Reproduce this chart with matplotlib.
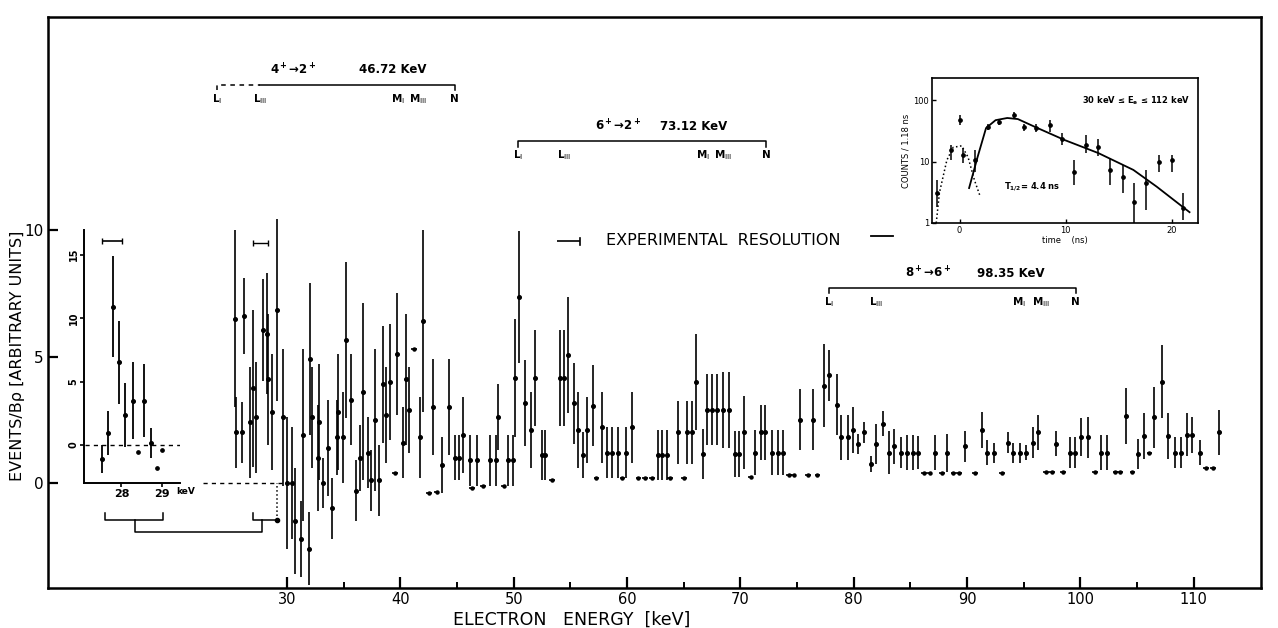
#!/usr/bin/env python3
"""Conversion-electron spectrum with isomer-decay insets (re-drawn from scan)."""

import matplotlib

matplotlib.use("Agg")
import matplotlib.pyplot as plt
from matplotlib.ticker import NullLocator

# ---- main spectrum: points with error bars (keV, events/Bp, +/- error) ----
bar_energy = [
    25.4, 25.5, 26.0, 26.2, 26.7, 27.0, 27.3, 27.9, 28.2, 28.3, 28.7, 29.1, 29.6,
    30.0, 30.4, 30.7, 31.2, 31.4, 31.9, 32.0, 32.2, 32.7, 32.8, 33.2, 33.6, 34.0,
    34.4, 34.5, 34.9, 35.2, 35.6, 36.1, 36.4, 36.7, 37.1, 37.4, 37.8, 38.1, 38.5,
    38.7, 39.1, 39.7, 40.2, 40.5, 40.8, 41.7, 42.0, 42.9, 43.7, 44.3, 44.8, 45.2,
    45.5, 46.1, 46.8, 47.9, 48.4, 48.6, 49.5, 49.9, 50.1, 50.5, 51.0, 51.5, 51.9,
    52.5, 52.8, 54.1, 54.4, 54.8, 55.3, 55.7, 56.1, 56.5, 57.0, 57.8, 58.2, 58.7,
    59.2, 59.9, 60.4, 62.7, 63.1, 63.5, 64.5, 65.3, 65.7, 66.1, 66.7, 67.1, 67.5,
    67.9, 68.5, 69.0, 69.5, 69.9, 70.3, 71.3, 71.8, 72.2, 72.8, 73.3, 73.8, 75.3,
    76.4, 77.4, 77.8, 78.5, 78.9, 79.5, 79.9, 80.4, 80.9, 81.5, 82.0, 82.6, 83.1,
    83.6, 84.2, 84.7, 85.2, 85.7, 87.2, 88.2, 89.8, 91.3, 91.8, 92.4, 93.6, 94.1,
    94.7, 95.2, 95.8, 96.3, 97.9, 99.1, 99.5, 100.1, 100.7, 101.8, 102.4, 104.0,
    105.1, 105.6, 106.5, 107.2, 107.7, 108.4, 108.9, 109.4, 109.9, 110.6, 112.2,
]
bar_value = [
    6.5, 2.0, 2.0, 6.6, 2.4, 3.75, 2.6, 6.05, 5.9, 4.1, 2.8, 6.85, 2.6,
    0.0, 0.0, -1.5, -2.2, 1.9, -2.6, 4.9, 2.6, 1.0, 2.4, 0.0, 1.4, -1.0,
    1.8, 2.8, 1.8, 5.65, 3.3, -0.3, 1.0, 3.6, 1.2, 0.1, 2.5, 0.1, 3.9,
    2.7, 4.0, 5.1, 1.6, 4.1, 2.9, 1.8, 6.4, 3.0, 0.7, 3.0, 1.0, 1.0,
    1.9, 0.9, 0.9, 0.9, 0.9, 2.6, 0.9, 0.9, 4.15, 7.35, 3.15, 2.1, 4.15,
    1.1, 1.1, 4.15, 4.15, 5.05, 3.15, 2.1, 1.1, 2.1, 3.05, 2.2, 1.2, 1.2,
    1.2, 1.2, 2.2, 1.1, 1.1, 1.1, 2.0, 2.0, 2.0, 4.0, 1.15, 2.9, 2.9,
    2.9, 2.9, 2.9, 1.15, 1.15, 2.0, 1.2, 2.0, 2.0, 1.2, 1.2, 1.2, 2.5,
    2.5, 3.85, 4.25, 3.1, 1.8, 1.8, 2.1, 1.55, 2.0, 0.75, 1.55, 2.35, 1.2,
    1.45, 1.2, 1.2, 1.2, 1.2, 1.2, 1.2, 1.45, 2.1, 1.2, 1.2, 1.6, 1.2,
    1.2, 1.2, 1.6, 2.0, 1.55, 1.2, 1.2, 1.8, 1.8, 1.2, 1.2, 2.65,
    1.15, 1.85, 2.6, 4.0, 1.85, 1.2, 1.2, 1.9, 1.9, 1.2, 2.0,
]
bar_error = [
    3.5, 1.4, 1.2, 1.5, 2.2, 3.1, 2.2, 2.0, 2.4, 2.6, 2.3, 3.6, 2.7,
    2.6, 2.2, 2.1, 1.5, 3.4, 1.45, 3.0, 2.0, 2.1, 2.3, 1.0, 1.9, 1.2,
    1.5, 2.3, 1.8, 3.1, 1.8, 1.2, 1.3, 3.5, 1.4, 1.2, 2.8, 1.4, 2.3,
    1.9, 2.3, 2.4, 1.4, 2.6, 1.7, 1.6, 3.6, 1.9, 1.1, 1.9, 0.9, 0.9,
    1.5, 1.0, 1.0, 1.0, 1.0, 1.3, 1.0, 1.0, 2.35, 2.6, 1.7, 1.5, 1.9,
    1.0, 1.0, 1.9, 1.9, 2.3, 1.6, 1.5, 0.9, 1.3, 1.6, 1.4, 1.0, 1.0,
    1.0, 1.0, 1.4, 1.0, 1.0, 1.0, 1.25, 1.25, 1.25, 1.9, 1.0, 1.4, 1.4,
    1.4, 1.5, 1.5, 0.9, 0.9, 1.45, 0.9, 1.1, 1.1, 0.9, 0.9, 0.9, 1.2,
    1.2, 1.65, 1.0, 1.2, 0.9, 0.9, 0.9, 0.4, 0.4, 0.3, 0.8, 0.5, 0.85,
    0.7, 0.6, 0.7, 0.7, 0.65, 0.7, 0.75, 0.6, 0.7, 0.5, 0.4, 0.4, 0.4,
    0.4, 0.3, 0.6, 0.7, 0.5, 0.6, 0.6, 0.75, 0.8, 0.7, 0.7, 1.1,
    0.6, 0.9, 1.2, 1.45, 0.9, 0.6, 0.6, 0.85, 0.7, 0.5, 0.9,
]

# channels drawn as a flat step (no vertical bar)
flat_energy = [
    39.5, 41.2, 42.5, 43.2, 46.3, 47.3, 49.1, 53.4, 57.3, 59.6, 61.0, 61.6, 62.2,
    63.8, 65.0, 70.9, 74.3, 74.7, 76.0, 76.8, 86.2, 86.7, 87.8, 88.8, 89.3, 90.7,
    93.1, 97.0, 97.5, 98.5, 101.3, 103.1, 103.5, 104.6, 106.1, 111.1, 111.7,
]
flat_value = [
    0.4, 5.3, -0.4, -0.35, -0.2, -0.1, -0.1, 0.1, 0.2, 0.2, 0.2, 0.2, 0.2,
    0.2, 0.2, 0.25, 0.3, 0.3, 0.3, 0.3, 0.4, 0.4, 0.4, 0.4, 0.4, 0.4,
    0.4, 0.45, 0.45, 0.45, 0.45, 0.45, 0.45, 0.45, 1.2, 0.6, 0.6,
]

# ---- left inset: 27-29 keV region on an expanded scale ----
inset_energy = [27.53, 27.68, 27.8, 27.95, 28.1, 28.28, 28.55, 28.73]
inset_value = [-1.1, 0.95, 10.9, 6.5, 2.35, 3.5, 3.5, 0.15]
inset_error = [1.1, 1.75, 4.0, 3.3, 2.5, 3.0, 2.9, 1.2]
inset_flat_energy = [28.4, 28.88, 29.0]
inset_flat_value = [-0.55, -1.8, -0.4]
inset_ticks = [0, 5, 10, 15]

# ---- top-right inset: time spectrum ----
time_ns = [-2.1, -0.85, 0.0, 0.3, 1.5, 2.65, 3.7, 5.1, 6.1, 7.2, 8.5,
           9.7, 10.8, 11.9, 13.1, 14.2, 15.4, 16.5, 17.6, 18.8, 20.0, 21.1]
time_counts = [3.1, 15.4, 47, 12.7, 10.6, 36, 44, 57, 36, 35, 39,
               23, 6.8, 18.5, 17, 7.3, 5.6, 2.2, 4.5, 9.8, 10.5, 1.75]
time_low = [1.8, 10.6, 39, 9.5, 6.7, 32, 39, 51, 31, 30, 30,
            18.5, 4.1, 13.7, 12.5, 4.1, 3.1, 1.0, 1.6, 6.7, 6.7, 1.1]
time_high = [5.0, 18.5, 57, 16.6, 15.4, 40, 49, 64, 41, 40, 47,
             29, 10.6, 27, 23, 11.4, 8.8, 4.5, 7.3, 12.8, 12.8, 3.1]
fit_time = [0.9, 1.7, 2.5, 3.4, 4.5, 5.5, 7.2, 9.9, 13.1, 16.4, 18.6, 21.7]
fit_counts = [3.7, 11.8, 35, 47, 51, 49, 36, 22.4, 13.7, 7.3, 3.9, 1.5]
prompt_time = [-2.2, -1.9, -1.2, -0.6, 0.2, 0.8, 1.4, 1.9]
prompt_counts = [1.0, 3.1, 10.5, 17, 18, 11.8, 5.0, 2.85]

# ---- conversion line markers ----
transition_labels = ["4$^+$→2$^+$", "6$^+$→2$^+$", "8$^+$→6$^+$"]
transition_energies = ["46.72 KeV", "73.12 KeV", "98.35 KeV"]
shell_labels = [r"L$_\mathrm{I}$", r"L$_\mathrm{III}$", r"M$_\mathrm{I}$", r"M$_\mathrm{III}$", "N"]
shell_positions = [
    [23.8, 27.6, 39.8, 41.6, 44.8],
    [50.4, 54.5, 66.7, 68.5, 72.3],
    [77.8, 82.0, 94.6, 96.5, 99.6],
]
bracket_level = [15.73, 13.5, 7.7]
label_x = [30.5, 59.2, 86.6]
energy_x = [39.3, 65.9, 93.9]

W, H = 1278, 628


def fig_box(x0, y0, x1, y1):
    """pixel box (top-left origin) -> figure fraction rect"""
    return [x0 / W, 1 - y1 / H, (x1 - x0) / W, (y1 - y0) / H]


plt.rcParams.update({"font.family": "DejaVu Sans", "mathtext.default": "regular"})

fig = plt.figure(figsize=(W / 100, H / 100), dpi=100, facecolor="white")

# ---------------- main axes ----------------
ax = fig.add_axes(fig_box(48, 17, 1261, 588))
ax.set_xlim(8.9, 115.95)
ax.set_ylim(-4.15, 18.42)
for sp in ax.spines.values():
    sp.set_linewidth(1.8)

ax.errorbar(bar_energy, bar_value, yerr=bar_error, fmt="o", ms=2.6, color="black",
            elinewidth=1.2, capsize=0, zorder=3)
ax.errorbar(flat_energy, flat_value, xerr=0.25, fmt="o", ms=2.2, color="black",
            elinewidth=1.2, capsize=0, zorder=3)

ax.set_xticks(range(30, 111, 10))
ax.set_xticks(range(35, 110, 10), minor=True)
ax.set_yticks([0, 5, 10])
ax.tick_params(axis="x", which="major", direction="in", length=8, width=1.6,
               labelsize=10.5, pad=3)
ax.tick_params(axis="x", which="minor", direction="in", length=4, width=1.4)
ax.tick_params(axis="y", direction="in", length=7, width=1.6, labelsize=11, pad=3)

# dashed zero line under the left part
ax.plot([22.6, 30.0], [0, 0], ls=(0, (3, 3)), lw=1.0, color="black")

# resolution marker over the 27-29 keV group
ax.errorbar([27.65], [9.5], xerr=[0.65], fmt="none", ecolor="black", elinewidth=1.0,
            capsize=2, ls="--")

# bracket linking the inset to the 27-29 keV channels
k = dict(color="black", lw=1.1)
ax.plot([13.9, 13.9, 19.05, 19.05], [-1.2, -1.46, -1.46, -1.2], **k)
ax.plot([16.6, 16.6, 27.8, 27.8], [-1.46, -1.94, -1.94, -1.46], **k)
ax.plot([27.0, 27.0, 29.1], [-1.2, -1.46, -1.46], **k)
ax.plot([29.1, 29.1], [-1.46, 0.0], ls=":", **k)
ax.plot([29.1], [-1.46], "o", ms=3, color="black")

# conversion-line brackets
for i in range(3):
    pos = shell_positions[i]
    lvl = bracket_level[i]
    if i == 0:
        ax.plot([pos[0], pos[0], pos[1]], [lvl - 0.2, lvl, lvl], ls=(0, (3, 3)), **k)
        ax.plot([pos[1], pos[-1], pos[-1]], [lvl, lvl, lvl - 0.2], **k)
    else:
        ax.plot([pos[0], pos[0], pos[-1], pos[-1]], [lvl - 0.2, lvl, lvl, lvl - 0.2], **k)
    for p, lab in zip(pos, shell_labels):
        ax.text(p, lvl - 0.55, lab, ha="center", va="center", fontsize=7.5, fontweight="bold")
    ax.text(label_x[i], lvl + 0.6, transition_labels[i], ha="center", va="center",
            fontsize=8.5, fontweight="bold")
    ax.text(energy_x[i], lvl + 0.6, transition_energies[i], ha="center", va="center",
            fontsize=8.5, fontweight="bold")

# experimental resolution legend
ax.text(68.5, 9.6, "EXPERIMENTAL  RESOLUTION", ha="center", va="center", fontsize=11.5)
ax.errorbar([54.85], [9.55], xerr=[1.0], fmt="none", ecolor="black", elinewidth=1.2,
            capsize=0)
ax.plot([55.85, 55.85], [9.4, 9.7], color="black", lw=1.2)
ax.plot([81.5, 83.5], [9.75, 9.75], color="black", lw=1.3)

fig.text(572 / W, 1 - 620 / H, "ELECTRON   ENERGY  [keV]", ha="center", va="center",
         fontsize=12.5)
fig.text(18 / W, 1 - 356 / H, "EVENTS/Bρ [ARBITRARY UNITS]", ha="center", va="center",
         rotation=90, fontsize=11.5)

# ---------------- left inset ----------------
axl = fig.add_axes(fig_box(84, 230, 180, 483))
axl.set_facecolor("none")
axl.set_xlim(27.075, 29.45)
axl.set_ylim(-2.99, 16.93)
axl.spines["top"].set_visible(False)
axl.spines["right"].set_visible(False)
axl.spines["left"].set_linewidth(1.4)
axl.spines["bottom"].set_linewidth(1.4)
axl.errorbar(inset_energy, inset_value, yerr=inset_error, fmt="o", ms=2.6, color="black",
             elinewidth=1.3, capsize=0)
axl.plot(inset_flat_energy, inset_flat_value, "o", ms=2.4, color="black")
axl.plot([27.1, 29.45], [0, 0], ls=(0, (3, 3)), lw=1.0, color="black")
axl.errorbar([27.77], [16.1], xerr=[0.24], fmt="none", ecolor="black", elinewidth=1.2, capsize=2)
axl.set_yticks(inset_ticks)
axl.set_yticklabels([str(t) for t in inset_ticks], rotation=90, va="center")
axl.set_xticks([28, 29])
axl.tick_params(axis="y", direction="out", length=3, width=1.2, labelsize=7, pad=1)
axl.tick_params(axis="x", direction="out", length=3, width=1.2, labelsize=8, pad=1)
for t in axl.get_xticklabels() + axl.get_yticklabels():
    t.set_fontweight("bold")
fig.text(176 / W, 1 - 491 / H, "keV", fontsize=6.5, fontweight="bold", va="center")

# ---------------- top-right inset ----------------
axr = fig.add_axes(fig_box(932, 78, 1198, 223))
axr.set_yscale("log")
axr.set_xlim(-2.6, 22.5)
axr.set_ylim(1, 228)
for sp in axr.spines.values():
    sp.set_linewidth(1.2)
yerr_lo = [c - lo for c, lo in zip(time_counts, time_low)]
yerr_hi = [hi - c for c, hi in zip(time_counts, time_high)]
axr.errorbar(time_ns, time_counts, yerr=[yerr_lo, yerr_hi], fmt="o", ms=2.4, color="black",
             elinewidth=1.1, capsize=0)
axr.plot(fit_time, fit_counts, color="black", lw=1.3)
axr.plot(prompt_time, prompt_counts, color="black", lw=1.1, ls=":")
axr.set_xticks([0, 10, 20])
axr.set_yticks([1, 10, 100])
axr.set_yticklabels(["1", "10", "100"])
axr.yaxis.set_minor_locator(NullLocator())
axr.tick_params(direction="in", length=3, width=1.0, labelsize=6, pad=2)
axr.set_xlabel("time    (ns)", fontsize=6, labelpad=1)
axr.set_ylabel("COUNTS / 1.18 ns", fontsize=6, labelpad=2)
axr.text(0.97, 0.84, "30 keV ≤ E$_e$ ≤ 112 keV", transform=axr.transAxes, ha="right",
         va="center", fontsize=6, fontweight="bold")
axr.text(0.27, 0.25, "T$_{1/2}$= 4.4 ns", transform=axr.transAxes, ha="left",
         va="center", fontsize=6, fontweight="bold")

fig.savefig("out.png", dpi=100, facecolor="white")
